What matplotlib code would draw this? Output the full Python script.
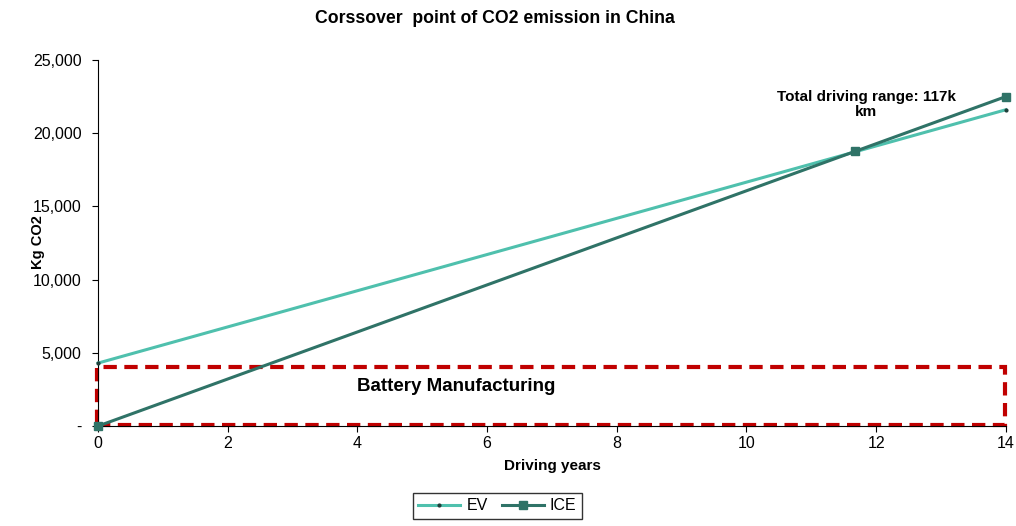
import matplotlib.pyplot as plt
from matplotlib.patches import Rectangle
from matplotlib.ticker import FuncFormatter

plt.rcParams['font.family'] = ['Liberation Sans', 'DejaVu Sans']

# 数据
years = [0, 11.67, 14]
ev = [4300, 18720, 21600]
ice = [0, 18750, 22500]
battery = 4000
xticks = [0, 2, 4, 6, 8, 10, 12, 14]
yticks = [0, 5000, 10000, 15000, 20000, 25000]

fig = plt.figure(figsize=(10.16, 5.26), dpi=100)
ax = fig.add_axes([0.0965, 0.19, 0.8935, 0.696])

ax.plot(years, ev, color='#4fc0ad', linewidth=2.2, marker='.', markersize=4,
        markerfacecolor='#1f3f3a', markeredgecolor='#1f3f3a', label='EV', clip_on=False, zorder=3)
ax.plot(years, ice, color='#2f7367', linewidth=2.2, marker='s', markersize=6,
        label='ICE', clip_on=False, zorder=3)

# 电池制造区域
ax.add_patch(Rectangle((-0.02, 100), 14, battery - 100, fill=False, edgecolor='#c00000',
                       linewidth=3.0, linestyle=(0, (3.2, 1.8)), clip_on=False, zorder=2))
ax.text(4.0, 2700, 'Battery Manufacturing', fontsize=13.5, fontweight='bold', va='center')

ax.text(11.85, 21950, 'Total driving range: 117k\nkm', fontsize=11, fontweight='bold',
        ha='center', va='center', linespacing=1.15)

ax.set_xlim(0, 14)
ax.set_ylim(0, 25000)
ax.set_xticks(xticks)
ax.set_yticks(yticks)
ax.yaxis.set_major_formatter(FuncFormatter(lambda v, p: '-' if v == 0 else f'{v:,.0f}'))
ax.tick_params(labelsize=11.5, direction='out', length=4, colors='black')
ax.tick_params(axis='y', pad=8)
ax.tick_params(axis='x', pad=3)

for s in ['top', 'right']:
    ax.spines[s].set_visible(False)

ax.set_xlabel('Driving years', fontsize=11, fontweight='bold', labelpad=6)
ax.set_ylabel('Kg CO2', fontsize=10.5, fontweight='bold')
ax.yaxis.set_label_coords(-0.058, 0.503)
fig.text(0.487, 0.965, 'Corssover  point of CO2 emission in China', fontsize=12.7,
         fontweight='bold', ha='center', va='center')

leg = ax.legend(loc='upper center', bbox_to_anchor=(0.44, -0.16), ncol=2, fontsize=11.5,
                frameon=True, fancybox=False, edgecolor='black', handlelength=2.6,
                handletextpad=0.4, columnspacing=0.9, borderpad=0.35)
leg.get_frame().set_linewidth(1.0)

fig.savefig('out.png', dpi=100)
